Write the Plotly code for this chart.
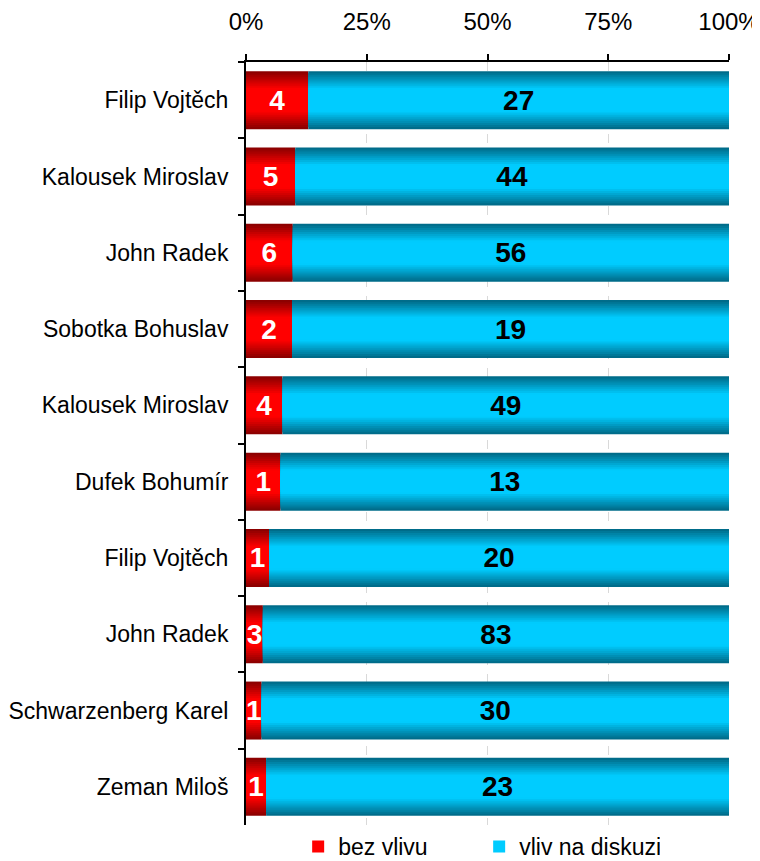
import plotly.graph_objects as go

categories = ["Filip Vojtěch", "Kalousek Miroslav", "John Radek", "Sobotka Bohuslav",
              "Kalousek Miroslav\u200b", "Dufek Bohumír", "Filip Vojtěch\u200b", "John Radek\u200b",
              "Schwarzenberg Karel", "Zeman Miloš"]
bez_vlivu = [4, 5, 6, 2, 4, 1, 1, 3, 1, 1]
vliv_na_diskuzi = [27, 44, 56, 19, 49, 13, 20, 83, 30, 23]
tick_vals = [0, 25, 50, 75, 100]
tick_text = ["0%", "25%", "50%", "75%", "100%"]

totals = [a + b for a, b in zip(bez_vlivu, vliv_na_diskuzi)]
pct_red = [100 * a / t for a, t in zip(bez_vlivu, totals)]
pct_cyan = [100 * b / t for b, t in zip(vliv_na_diskuzi, totals)]

FONT = "Liberation Sans Narrow, Arial Narrow, Liberation Sans, Arial"


def lerp(c1, c2, t):
    return "rgb(%d,%d,%d)" % tuple(round(a + (b - a) * t) for a, b in zip(c1, c2))


fig = go.Figure()
N = 14
W = 0.76
series = [
    ("bez vlivu", pct_red, [0] * len(pct_red), (140, 0, 0), (255, 0, 0), bez_vlivu, "white"),
    ("vliv na diskuzi", pct_cyan, pct_red, (0, 108, 138), (0, 204, 255), vliv_na_diskuzi, "black"),
]
for name, vals, base, dark, light, labels, tcol in series:
    for k in range(N):
        t = k / (N - 1)
        w = W * (1 - k / N)
        col = lerp(dark, light, min(1, t * 1.6))
        fig.add_trace(go.Bar(
            y=categories, x=vals, base=base, orientation="h", width=w,
            marker=dict(color=col, line=dict(width=0)),
            name=name, legendgroup=name, showlegend=(k == N - 1),
            hoverinfo="skip",
        ))
    fig.add_trace(go.Bar(
        y=categories, x=vals, base=base, orientation="h", width=W,
        marker=dict(color="rgba(0,0,0,0)", line=dict(width=0)),
        text=[str(v) for v in labels], textposition="inside",
        insidetextanchor="middle", constraintext="none",
        textfont=dict(family=FONT, size=28, color=tcol, weight="bold"),
        showlegend=False, hoverinfo="skip",
    ))

# the page body adds an 8px offset, so the figure is sized to fill the window from there
fig.update_layout(
    width=752, height=853,
    barmode="overlay",
    plot_bgcolor="white", paper_bgcolor="white",
    margin=dict(l=238, r=31, t=54, b=36, autoexpand=False),
    font=dict(family=FONT, size=23, color="black"),
    uniformtext=dict(mode=False),
    legend=dict(orientation="h", x=0.108, y=0.0, xanchor="left", yanchor="top",
                font=dict(size=23), itemwidth=30, traceorder="normal",
                entrywidthmode="pixels", entrywidth=136),
    xaxis=dict(side="top", range=[0, 100], tickvals=tick_vals, ticktext=tick_text,
               showline=True, linecolor="black", linewidth=2, ticks="outside",
               ticklen=6, tickcolor="black", tickwidth=2, mirror=False,
               showgrid=True, gridcolor="#d9d9d9", griddash="dash", gridwidth=1,
               zeroline=False, tickfont=dict(size=24), automargin=False,
               ticklabelstandoff=14, ticklabeloverflow="allow"),
    yaxis=dict(autorange="reversed", showline=True, linecolor="black", linewidth=2,
               ticks="outside", ticklen=6, tickcolor="black", tickwidth=2,
               tickson="boundaries", showgrid=False, ticklabelstandoff=11,
               tickfont=dict(size=23), automargin=False),
)

fig.write_html("out.html")
